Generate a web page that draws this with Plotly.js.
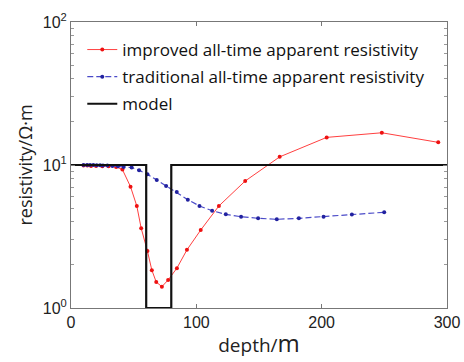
<!DOCTYPE html>
<html>
<head>
<meta charset="utf-8">
<script src="https://cdn.plot.ly/plotly-3.0.1.min.js"></script>
<style>html,body{margin:0;padding:0;background:#fff;}</style>
</head>
<body>
<div id="chart" style="width:464px;height:362px;"></div>
<script>
// improved all-time apparent resistivity
const improvedDepth = [10, 13, 16, 20, 25, 30, 36, 41, 47.5, 52.5, 56, 61, 64.5, 68, 72.5, 77.5, 84.5, 92.5, 103.5, 118, 139, 166.5, 204, 248, 293];
const improvedRho   = [9.9, 9.9, 9.85, 9.85, 9.8, 9.8, 9.7, 9.3, 7.05, 5.17, 3.61, 2.5, 1.84, 1.52, 1.41, 1.57, 1.9, 2.55, 3.51, 5.17, 7.73, 11.4, 15.6, 16.8, 14.4];
// traditional all-time apparent resistivity
const traditionalDepth = [10, 12.8, 15.2, 17.8, 20.5, 23.2, 25.5, 29, 33, 37.5, 42, 48.4, 54.3, 61, 68.4, 75.9, 84.4, 93.2, 102.5, 112.6, 123.5, 135.7, 149.3, 164.2, 181.8, 201.5, 224.1, 249.9];
const traditionalRho   = [10, 10, 10, 10, 9.95, 9.95, 9.9, 9.9, 9.85, 9.8, 9.7, 9.6, 9.2, 8.6, 7.86, 7.13, 6.47, 5.72, 5.17, 4.79, 4.52, 4.35, 4.24, 4.17, 4.24, 4.35, 4.5, 4.67];
// model
const modelDepth = [0, 60, 60, 80, 80, 300];
const modelRho   = [10, 10, 1, 1, 10, 10];
// axis ticks
const yTickVals = [1, 10, 100];
const yTickText = ['10<sup>0</sup>', '10<sup>1</sup>', '10<sup>2</sup>'];
const xTickVals = [0, 100, 200, 300];

const traces = [
  {x: improvedDepth, y: improvedRho, type: 'scatter', mode: 'lines+markers',
   name: 'improved all-time apparent resistivity', legendgroup: 'a',
   line: {color: '#ff4040', width: 1}, marker: {color: '#ee1111', size: 4}},
  {x: traditionalDepth, y: traditionalRho, type: 'scatter', mode: 'lines+markers',
   name: 'traditional all-time apparent resistivity', legendgroup: 'b',
   line: {color: '#4a4ac8', width: 1.2, dash: '6px,3px'}, marker: {color: '#2222a0', size: 4}},
  {x: modelDepth, y: modelRho, type: 'scatter', mode: 'lines',
   name: 'model', legendgroup: 'c',
   line: {color: '#111111', width: 2.2}}
];

const layout = {
  width: 464, height: 362,
  margin: {l: 71, r: 17, t: 22, b: 54},
  paper_bgcolor: '#fff', plot_bgcolor: '#fff',
  font: {family: 'Liberation Sans, Arial, sans-serif', color: '#222', size: 15},
  showlegend: true,
  legend: {x: 0.03, y: 0.965, xanchor: 'left', yanchor: 'top', bgcolor: 'rgba(0,0,0,0)',
           font: {family: 'Open Sans, sans-serif', size: 17, color: '#111'},
           traceorder: 'grouped', tracegroupgap: 2},
  xaxis: {range: [0, 300], tickvals: xTickVals, ticks: 'inside', ticklen: 4,
          showline: true, mirror: 'ticks', linecolor: '#777', linewidth: 1, tickcolor: '#777',
          showgrid: false, zeroline: false, tickfont: {size: 16},
          title: {text: 'depth/<span style="font-size:24px">m</span>',
                  font: {family: 'Open Sans, sans-serif', size: 19}, standoff: 8}},
  yaxis: {type: 'log', range: [0, 2], tickvals: yTickVals, ticktext: yTickText,
          ticks: 'inside', ticklen: 4, showline: true, mirror: 'ticks', linecolor: '#777',
          linewidth: 1, tickcolor: '#777', showgrid: false, zeroline: false, tickfont: {size: 16},
          minor: {ticks: 'inside', ticklen: 3, tickcolor: '#999', dtick: 'D1', showgrid: false},
          title: {text: 'resistivity/Ω·m', font: {family: 'Open Sans, sans-serif', size: 18}, standoff: 5}}
};

Plotly.newPlot('chart', traces, layout, {displayModeBar: false, staticPlot: true});
</script>
</body>
</html>
